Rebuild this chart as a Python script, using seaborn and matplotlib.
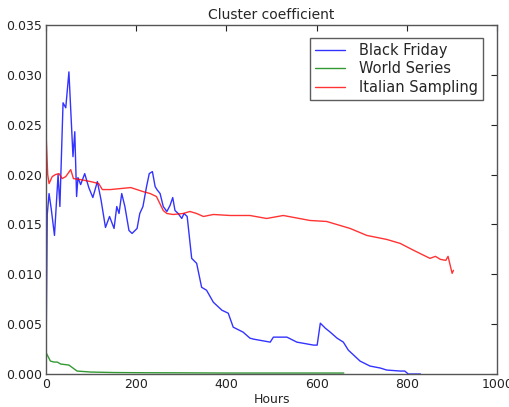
import matplotlib
matplotlib.use("Agg")
import matplotlib.pyplot as plt
import seaborn as sns
import pandas as pd

bf_x = [0, 3, 7, 12, 19, 27, 31, 38, 44, 51, 60, 64, 68, 71, 77, 86, 95, 104, 114, 122,
        132, 141, 151, 157, 162, 168, 175, 184, 191, 202, 208, 215, 223, 229, 236, 242,
        246, 253, 260, 268, 275, 281, 286, 293, 301, 306, 313, 323, 334, 345, 356, 371,
        390, 404, 415, 437, 452, 460, 497, 504, 534, 556, 593, 601, 608, 619, 630, 645,
        659, 670, 696, 718, 741, 755, 785, 795, 803, 830]
bf_y = [0.0000, 0.0160, 0.0181, 0.0165, 0.0139, 0.0200, 0.0168, 0.0272, 0.0267, 0.0303,
        0.0218, 0.0243, 0.0178, 0.0197, 0.0190, 0.0201, 0.0187, 0.0177, 0.0193, 0.0175,
        0.0147, 0.0158, 0.0146, 0.0168, 0.0161, 0.0181, 0.0168, 0.0144, 0.0141, 0.0146,
        0.0161, 0.0168, 0.0188, 0.0201, 0.0203, 0.0188, 0.0185, 0.0181, 0.0168, 0.0163,
        0.0169, 0.0177, 0.0164, 0.0161, 0.0156, 0.0161, 0.0158, 0.0116, 0.0111, 0.0087,
        0.0084, 0.0072, 0.0064, 0.0061, 0.0047, 0.0042, 0.0036, 0.0035, 0.0032, 0.0037,
        0.0037, 0.0032, 0.0029, 0.0029, 0.0051, 0.0046, 0.0042, 0.0036, 0.0032, 0.0024,
        0.0013, 0.0008, 0.0006, 0.0004, 0.0003, 0.0003, 0.0000, 0.0000]

ws_x = [0, 2, 10, 18, 25, 33, 51, 60, 69, 99, 150, 217, 300, 400, 500, 580, 660]
ws_y = [0.0022, 0.0020, 0.0013, 0.0012, 0.0012, 0.0010, 0.0009, 0.0006, 0.0003, 0.0002,
        0.00015, 0.00013, 0.00012, 0.0001, 0.0001, 0.0001, 0.0001]

it_x = [0, 4, 7, 14, 21, 29, 36, 44, 55, 61, 77, 99, 117, 125, 143, 188, 215, 231, 245,
        260, 268, 282, 304, 319, 334, 349, 371, 408, 452, 489, 526, 585, 622, 674, 711,
        755, 785, 815, 851, 863, 874, 886, 891, 900, 903]
it_y = [0.0245, 0.0200, 0.0191, 0.0198, 0.0200, 0.0201, 0.0196, 0.0198, 0.0205, 0.0196,
        0.0195, 0.0193, 0.0191, 0.0185, 0.0185, 0.0187, 0.0183, 0.0181, 0.0178, 0.0164,
        0.0161, 0.0160, 0.0161, 0.0163, 0.0161, 0.0158, 0.0160, 0.0159, 0.0159, 0.0156,
        0.0159, 0.0154, 0.0153, 0.0146, 0.0139, 0.0135, 0.0131, 0.0124, 0.0116, 0.0118,
        0.0115, 0.0114, 0.0118, 0.0101, 0.0104]

names = ["Black Friday", "World Series", "Italian Sampling"]
colors = ["#0000ff", "#008000", "#ff0000"]

df = pd.concat([
    pd.DataFrame({"Hours": bf_x, "val": bf_y, "series": names[0]}),
    pd.DataFrame({"Hours": ws_x, "val": ws_y, "series": names[1]}),
    pd.DataFrame({"Hours": it_x, "val": it_y, "series": names[2]}),
], ignore_index=True)

sns.set_style("white")
plt.rcParams["font.family"] = ["DejaVu Sans"]

fig = plt.figure(figsize=(5.1, 4.07), dpi=100)
ax = fig.add_axes([0.090, 0.081, 0.885, 0.8575])
sns.lineplot(data=df, x="Hours", y="val", hue="series", palette=dict(zip(names, colors)),
             estimator=None, sort=False, lw=1.0, alpha=0.8, ax=ax)

ax.set_xlim(0, 1000)
ax.set_ylim(0, 0.035)
ax.set_xticks([0, 200, 400, 600, 800, 1000])
ax.set_yticks([0.000, 0.005, 0.010, 0.015, 0.020, 0.025, 0.030, 0.035])
ax.set_yticklabels([f"{v:.3f}" for v in ax.get_yticks()])
ax.tick_params(direction="in", length=4, width=0.8, top=True, right=True,
               labelsize=9, colors="#222222", pad=3)
for s in ax.spines.values():
    s.set_color("#555555")
    s.set_linewidth(1.0)
ax.set_xlabel("Hours", fontsize=9, labelpad=1)
ax.set_ylabel("")
ax.set_title("Cluster coefficient", fontsize=10, pad=4)

leg = ax.legend(loc="upper right", fontsize=10.5, frameon=True, fancybox=False,
                borderpad=0.35, labelspacing=0.25, handlelength=2.0, handletextpad=1.0,
                bbox_to_anchor=(0.985, 0.985))
leg.get_frame().set_edgecolor("#333333")
leg.get_frame().set_linewidth(1.0)

fig.savefig("out.png", dpi=100)
